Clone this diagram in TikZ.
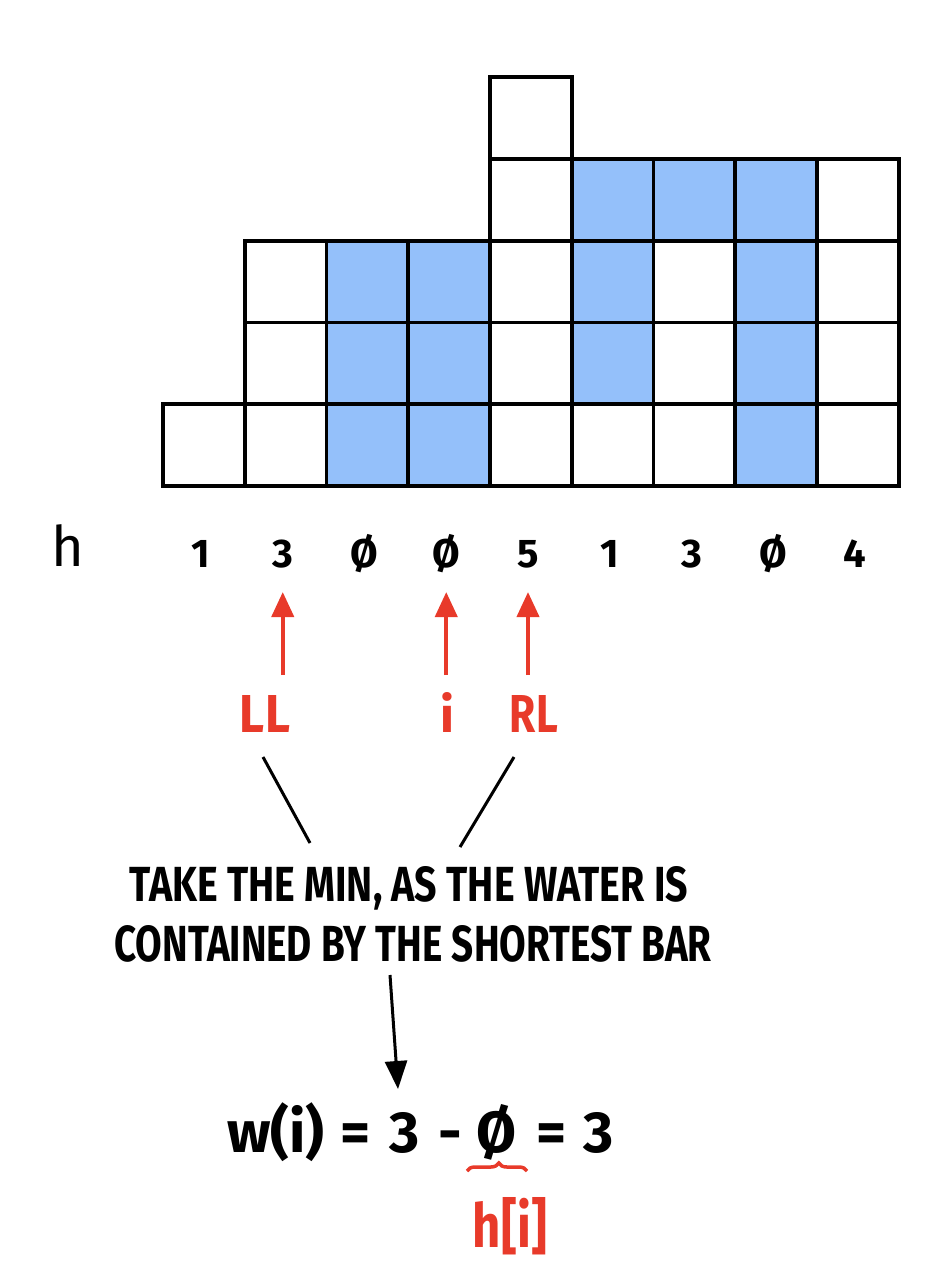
\documentclass[tikz,border=0pt]{standalone}
\usepackage{fontspec}
\setmainfont{Fira Sans}
\usetikzlibrary{arrows.meta,decorations.pathreplacing,calc}
\definecolor{water}{RGB}{148,192,250}
\definecolor{pen}{RGB}{232,58,42}
\begin{document}
\begin{tikzpicture}[x=1pt,y=-1pt,
  cellbox/.style={draw=black,line width=3.8pt,line join=miter},
  num/.style={font=\fontsize{40}{40}\selectfont\bfseries,inner sep=0pt,anchor=base},
  redlab/.style={text=pen,inner sep=0pt,anchor=base,font=\bfseries},
  redarrow/.style={draw=pen,line width=4pt,-{Triangle[length=25pt,width=22pt]}},
  blackline/.style={draw=black,line width=3pt},
  blackarrow/.style={draw=black,line width=3pt,-{Triangle[length=28pt,width=22pt]}},
  formula/.style={font=\fontsize{58}{58}\selectfont\bfseries,inner sep=0pt,anchor=base}]
\useasboundingbox (0,0) rectangle (943,1280);
\def\cw{81.75}
% water
\foreach \c/\r in {2/0,2/1,2/2,3/0,3/1,3/2,5/1,5/2,5/3,6/3,7/0,7/1,7/2,7/3}
  \fill[water] ({163+\c*\cw},{486-\r*\cw}) rectangle +(\cw,-\cw);
% cells
\foreach \c/\n in {0/1,1/3,2/3,3/3,4/5,5/4,6/4,7/4,8/4}
  \foreach \r in {1,...,\n}
    \draw[cellbox] ({163+\c*\cw},{486-(\r-1)*\cw}) rectangle +(\cw,-\cw);
% h row
\node[font=\fontsize{56}{56}\selectfont,inner sep=0pt,anchor=base] (hlab) at (68,566) {h};
\foreach \v [count=\i from 0] in {1,3,Ø,Ø,5,1,3,Ø,4}
  \node[num] (n\i) at ({201+\i*\cw},567) {\v};
% red labels
\node[redlab] (ll) at (265,732) {\resizebox{50pt}{37pt}{LL}};
\node[redlab] (ii) at (447,732) {\resizebox{!}{40pt}{i}};
\node[redlab] (rl) at (534,732) {\resizebox{48pt}{37pt}{RL}};
% red arrows
\draw[redarrow] (n1.south |- 0,675) -- (n1.south |- 0,592);
\draw[redarrow] (n3.south |- 0,675) -- (n3.south |- 0,592);
\draw[redarrow] (n4.south |- 0,675) -- (n4.south |- 0,592);
% explanation text
\node[inner sep=0pt,anchor=base,font=\bfseries] (t1) at (409,901) {\resizebox{558pt}{35pt}{TAKE THE MIN, AS THE WATER IS}};
\node[inner sep=0pt,anchor=base,font=\bfseries] (t2) at (413,961) {\resizebox{597pt}{36pt}{CONTAINED BY THE SHORTEST BAR}};
\coordinate (l1a) at (263,757);
\coordinate (l1b) at (310,843);
\coordinate (l2a) at (514,757);
\coordinate (l2b) at (460,847);
\draw[blackline] (l1a) -- (l1b);
\draw[blackline] (l2a) -- (l2b);
% formula
\node[formula] (w) at (276,1152) {w(i)};
\node[formula] (e1) at (356,1152) {=};
\node[formula] (f3) at (405,1152) {3};
\node[formula] (mi) at (450,1152) {-};
\node[formula] (phi) at (497,1152) {Ø};
\node[formula] (e2) at (552,1152) {=};
\node[formula] (r3) at (599,1152) {3};
\coordinate (ar0) at (390,975);
\coordinate (ar1) at (398,1089);
\draw[blackarrow] (ar0) -- (ar1);
% brace
\coordinate (b0) at (467,1171);
\coordinate (b1) at (527,1171);
\draw[draw=pen,line width=3.5pt,decorate,decoration={brace,amplitude=8pt,mirror,aspect=0.47}] (b1) -- (b0);
\node[text=pen,inner sep=0pt,anchor=base,font=\bfseries] (hi) at (510,1247) {\resizebox{74pt}{50pt}{h[i]}};
\end{tikzpicture}
\end{document}
